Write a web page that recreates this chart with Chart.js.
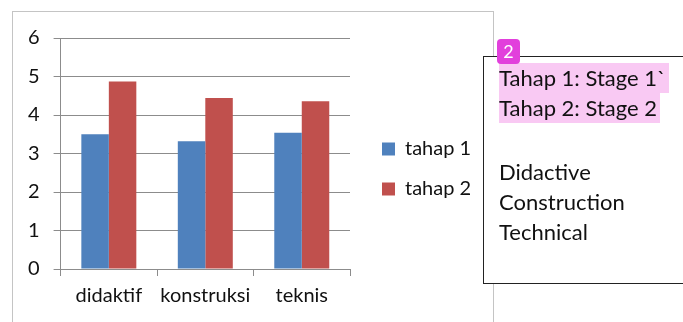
<!DOCTYPE html>
<html>
<head>
<meta charset="utf-8">
<script src="https://cdn.jsdelivr.net/npm/chart.js@4"></script>
<style>
  body { margin: 0; background: #fff; width: 683px; height: 322px; overflow: hidden; position: relative; font-family: Lato, "Open Sans", sans-serif; }
  #chart-box { position: absolute; left: 12px; top: 11px; width: 480px; height: 320px; border: 1px solid #c4c4c4; }
  #note { position: absolute; left: 483px; top: 56px; width: 220px; height: 226px; border: 1.5px solid #222; background: #fff; font-size: 22px; line-height: 30px; color: #111; }
  #note .hl { background: #f9c9f3; display: inline-block; height: 30px; padding-right: 3px; }
  #note .lines { position: absolute; left: 15px; top: 6px; }
  #note .gap { height: 34px; }
  #badge { position: absolute; left: 497px; top: 39px; width: 23px; height: 25px; border-radius: 4px; background: #e23fdc; color: #fff; font-size: 18px; line-height: 25px; text-align: center; }
</style>
</head>
<body>
<div id="chart-box"><canvas id="barChart"></canvas></div>
<div id="note">
  <div class="lines">
    <span class="hl">Tahap 1: Stage 1`</span><br>
    <span class="hl">Tahap 2: Stage 2</span>
    <div class="gap"></div>
    Didactive<br>
    Construction<br>
    Technical
  </div>
</div>
<div id="badge">2</div>
<script>
/* ---------------------------
    DATA
------------------------------ */
const categories = ["didaktif", "konstruksi", "teknis"];
const tahap1 = [3.5, 3.32, 3.54];
const tahap2 = [4.87, 4.44, 4.36];
const seriesNames = ["tahap 1", "tahap 2"];
const yTicks = [0, 1, 2, 3, 4, 5, 6];

const axisColor = "#8c8c8c";
const font = { family: "Lato, 'Open Sans', sans-serif", size: 20 };

// push the legend a bit to the right, away from the plot
const legendShift = {
    id: "legendShift",
    afterLayout(chart) {
        chart.legend.left += 12;
        chart.legend.right += 12;
    }
};

/* ---------------------------
    CHART
------------------------------ */
new Chart(document.getElementById("barChart"), {
    type: "bar",
    data: {
        labels: categories,
        datasets: [
            { label: seriesNames[0], data: tahap1, backgroundColor: "#4f81bd" },
            { label: seriesNames[1], data: tahap2, backgroundColor: "#c0504d" }
        ]
    },
    options: {
        responsive: true,
        maintainAspectRatio: false,
        animation: false,
        layout: { padding: { top: 10, left: 1, right: 31, bottom: 16 } },
        datasets: { bar: { categoryPercentage: 0.57, barPercentage: 1 } },
        plugins: {
            tooltip: { enabled: false },
            legend: {
                position: "right",
                labels: {
                    font: font,
                    color: "#111",
                    boxWidth: 13,
                    boxHeight: 13,
                    padding: 20
                }
            }
        },
        scales: {
            x: {
                grid: { drawOnChartArea: false, color: axisColor, tickLength: 7 },
                border: { color: axisColor },
                ticks: { font: font, color: "#111", padding: 8 }
            },
            y: {
                min: yTicks[0],
                max: yTicks[yTicks.length - 1],
                afterBuildTicks: axis => { axis.ticks = yTicks.map(v => ({ value: v })); },
                grid: { color: axisColor, tickLength: 7 },
                border: { color: axisColor },
                ticks: { font: font, color: "#111", padding: 14 }
            }
        }
    },
    plugins: [legendShift]
});
</script>
</body>
</html>
